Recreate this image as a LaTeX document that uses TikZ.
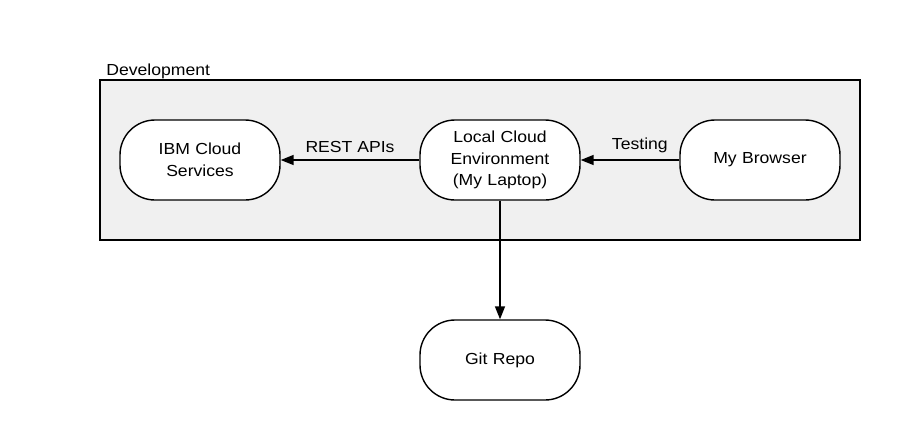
\documentclass[tikz,border=0pt]{standalone}
\usepackage{fontspec}
\setmainfont[FakeStretch=1.1]{Liberation Sans}
\usepackage{tikz}
\usetikzlibrary{shapes,arrows.meta}

\begin{document}
\begin{tikzpicture}[x=1pt, y=-1pt, node distance = 300pt, auto,
	every node/.style={font=\fontsize{16}{21.5}\selectfont}]
	\tikzstyle{frame} = [rectangle, draw, fill=black!6, line width=1.6pt,
	minimum width=760pt, minimum height=160pt]
	\tikzstyle{block} = [rectangle, draw, fill=white, line width=1.4pt,
	text width=140pt, align=center, rounded corners=35pt, minimum width=160pt, minimum height=80pt]
	\tikzstyle{line} = [draw, -{Triangle[length=13pt,width=10pt]}, line width=1.6pt]
	\useasboundingbox (0,0) rectangle (900,440);
	% Place nodes
	\node [frame] (dev) at (480,160) {};
	\node [anchor=base west, inner sep=0pt] (devlabel) at ([xshift=7pt, yshift=4pt]dev.north west) {Development};
	\node [block] (local) at (500,160) {Local Cloud\\Environment\\(My Laptop)};
	\node [block, left of=local] (ibm) {IBM Cloud\\Services};
	\node [block, right of=local, node distance = 260pt] (browser) {My Browser};
	\node [block, below of=local, node distance = 200pt] (git) {Git Repo};
	% Draw edges
	\path [line] (local) -- node [midway, above=3pt] {REST APIs} (ibm);
	\path [line] (browser) -- node [pos=0.4, above=3pt] {Testing} (local);
	\path [line] (local) -- (git);
\end{tikzpicture}
\end{document}
